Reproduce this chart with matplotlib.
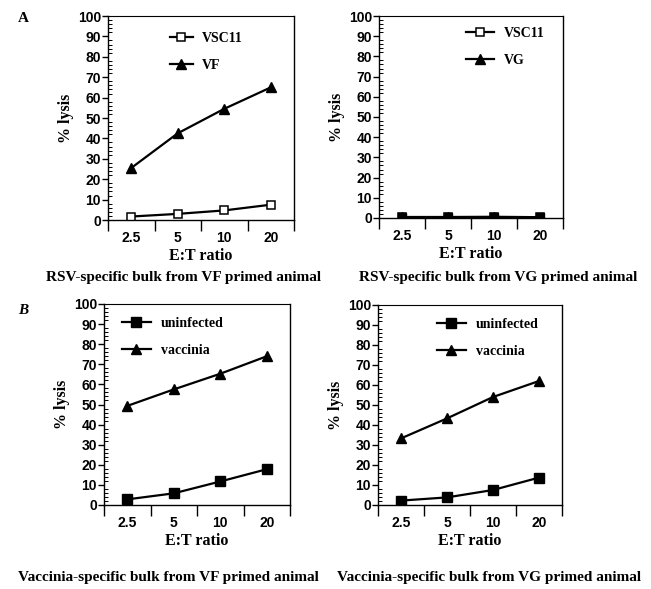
import numpy as np
import matplotlib
matplotlib.use('Agg')
import matplotlib.pyplot as plt

# E:T ratios (categorical x axis)
ratios = ['2.5', '5', '10', '20']

# panel A, RSV-specific bulk
vf_vsc11 = [1.7, 3.0, 4.7, 7.5]
vf_vf = [25.5, 42.5, 54.5, 65.0]
vg_vsc11 = [0.5, 0.5, 0.6, 0.4]
vg_vg = [0.3, 0.3, 0.4, 0.2]

# panel B, vaccinia-specific bulk
vf_uninf = [2.8, 5.8, 11.7, 17.8]
vf_vacc = [49.3, 57.5, 65.3, 74.0]
vg_uninf = [2.2, 3.8, 7.5, 13.7]
vg_vacc = [33.3, 43.3, 54.0, 62.0]

serif = 'Liberation Serif'
sans = 'Liberation Sans'

fig = plt.figure(figsize=(6.51, 5.89), dpi=100)

W, H = 651.0, 589.0
def box(l, t, r, b):
    return [l / W, 1 - b / H, (r - l) / W, (b - t) / H]

def setup(ax, title, tx, ty):
    x = np.arange(len(ratios))
    ax.set_xlim(-0.5, len(ratios) - 0.5)
    ax.set_ylim(0, 100)
    ax.set_xticks(np.arange(-0.5, len(ratios)), [])
    ax.set_xticks(x, ratios, minor=True)
    ax.tick_params(axis='x', which='major', direction='out', length=8, width=1)
    ax.tick_params(axis='x', which='minor', length=0, pad=8)
    ax.set_yticks(np.arange(0, 101, 10))
    ax.set_yticks(np.arange(0, 101, 2), minor=True)
    ax.tick_params(axis='y', which='major', direction='out', length=4, width=1, pad=1)
    ax.tick_params(axis='y', which='minor', direction='in', length=3, width=0.7)
    for lab in ax.get_xticklabels(minor=True) + ax.get_yticklabels():
        lab.set_fontfamily(sans)
        lab.set_fontweight('bold')
        lab.set_fontsize(10)
    for s in ax.spines.values():
        s.set_linewidth(1.0)
    ax.spines['top'].set_linewidth(0.8)
    ax.set_xlabel('E:T ratio', family=serif, fontweight='bold', fontsize=11.5, labelpad=2)
    ax.set_ylabel('% lysis', family=serif, fontweight='bold', fontsize=11.5, labelpad=3)
    # panel captions sit a little off-centre in the original
    fig.text(tx / W, 1 - ty / H, title, ha='center', va='center',
             family=serif, fontweight='bold', fontsize=11)

def legend(ax, x0, y0, hl):
    ax.legend(loc='upper left', bbox_to_anchor=(x0, y0), frameon=False,
              prop={'family': serif, 'weight': 'bold', 'size': 10},
              handlelength=hl, handletextpad=0.7, labelspacing=1.0,
              borderpad=0, borderaxespad=0)

x = np.arange(len(ratios))
lw = 1.6

# A left
ax1 = fig.add_axes(box(108, 16, 294, 220))
ax1.plot(x, vf_vsc11, '-s', color='black', mfc='white', mew=1.1, ms=5.5, lw=lw, label='VSC11')
ax1.plot(x, vf_vf, '-^', color='black', ms=6.5, lw=lw, label='VF')
setup(ax1, 'RSV-specific bulk from VF primed animal', 184, 277)
legend(ax1, 0.335, 0.92, 1.6)

# A right
ax2 = fig.add_axes(box(379, 16, 563, 218))
ax2.plot(x, vg_vsc11, '-s', color='black', mfc='white', mew=1.1, ms=5.5, lw=lw, label='VSC11')
ax2.plot(x, vg_vg, '-^', color='black', ms=6.5, lw=lw, label='VG')
ax2.plot(x, vg_vsc11, 's', color='black', ms=6, lw=0)
setup(ax2, 'RSV-specific bulk from VG primed animal', 498, 278)
legend(ax2, 0.475, 0.945, 2.0)

# B left
ax3 = fig.add_axes(box(104, 304, 290, 505))
ax3.plot(x, vf_uninf, '-s', color='black', ms=7, lw=lw, label='uninfected')
ax3.plot(x, vf_vacc, '-^', color='black', ms=6.5, lw=lw, label='vaccinia')
setup(ax3, 'Vaccinia-specific bulk from VF primed animal', 168, 577)
legend(ax3, 0.095, 0.935, 2.1)

# B right
ax4 = fig.add_axes(box(378, 305, 562, 505))
ax4.plot(x, vg_uninf, '-s', color='black', ms=7, lw=lw, label='uninfected')
ax4.plot(x, vg_vacc, '-^', color='black', ms=6.5, lw=lw, label='vaccinia')
setup(ax4, 'Vaccinia-specific bulk from VG primed animal', 489, 578)
legend(ax4, 0.32, 0.935, 2.1)

fig.text(18 / W, 1 - 18 / H, 'A', family=serif, fontweight='bold', fontsize=11, va='center')
fig.text(18 / W, 1 - 310 / H, 'B', family=serif, fontweight='bold', style='italic', fontsize=11, va='center')

fig.savefig('out.png', dpi=100)
